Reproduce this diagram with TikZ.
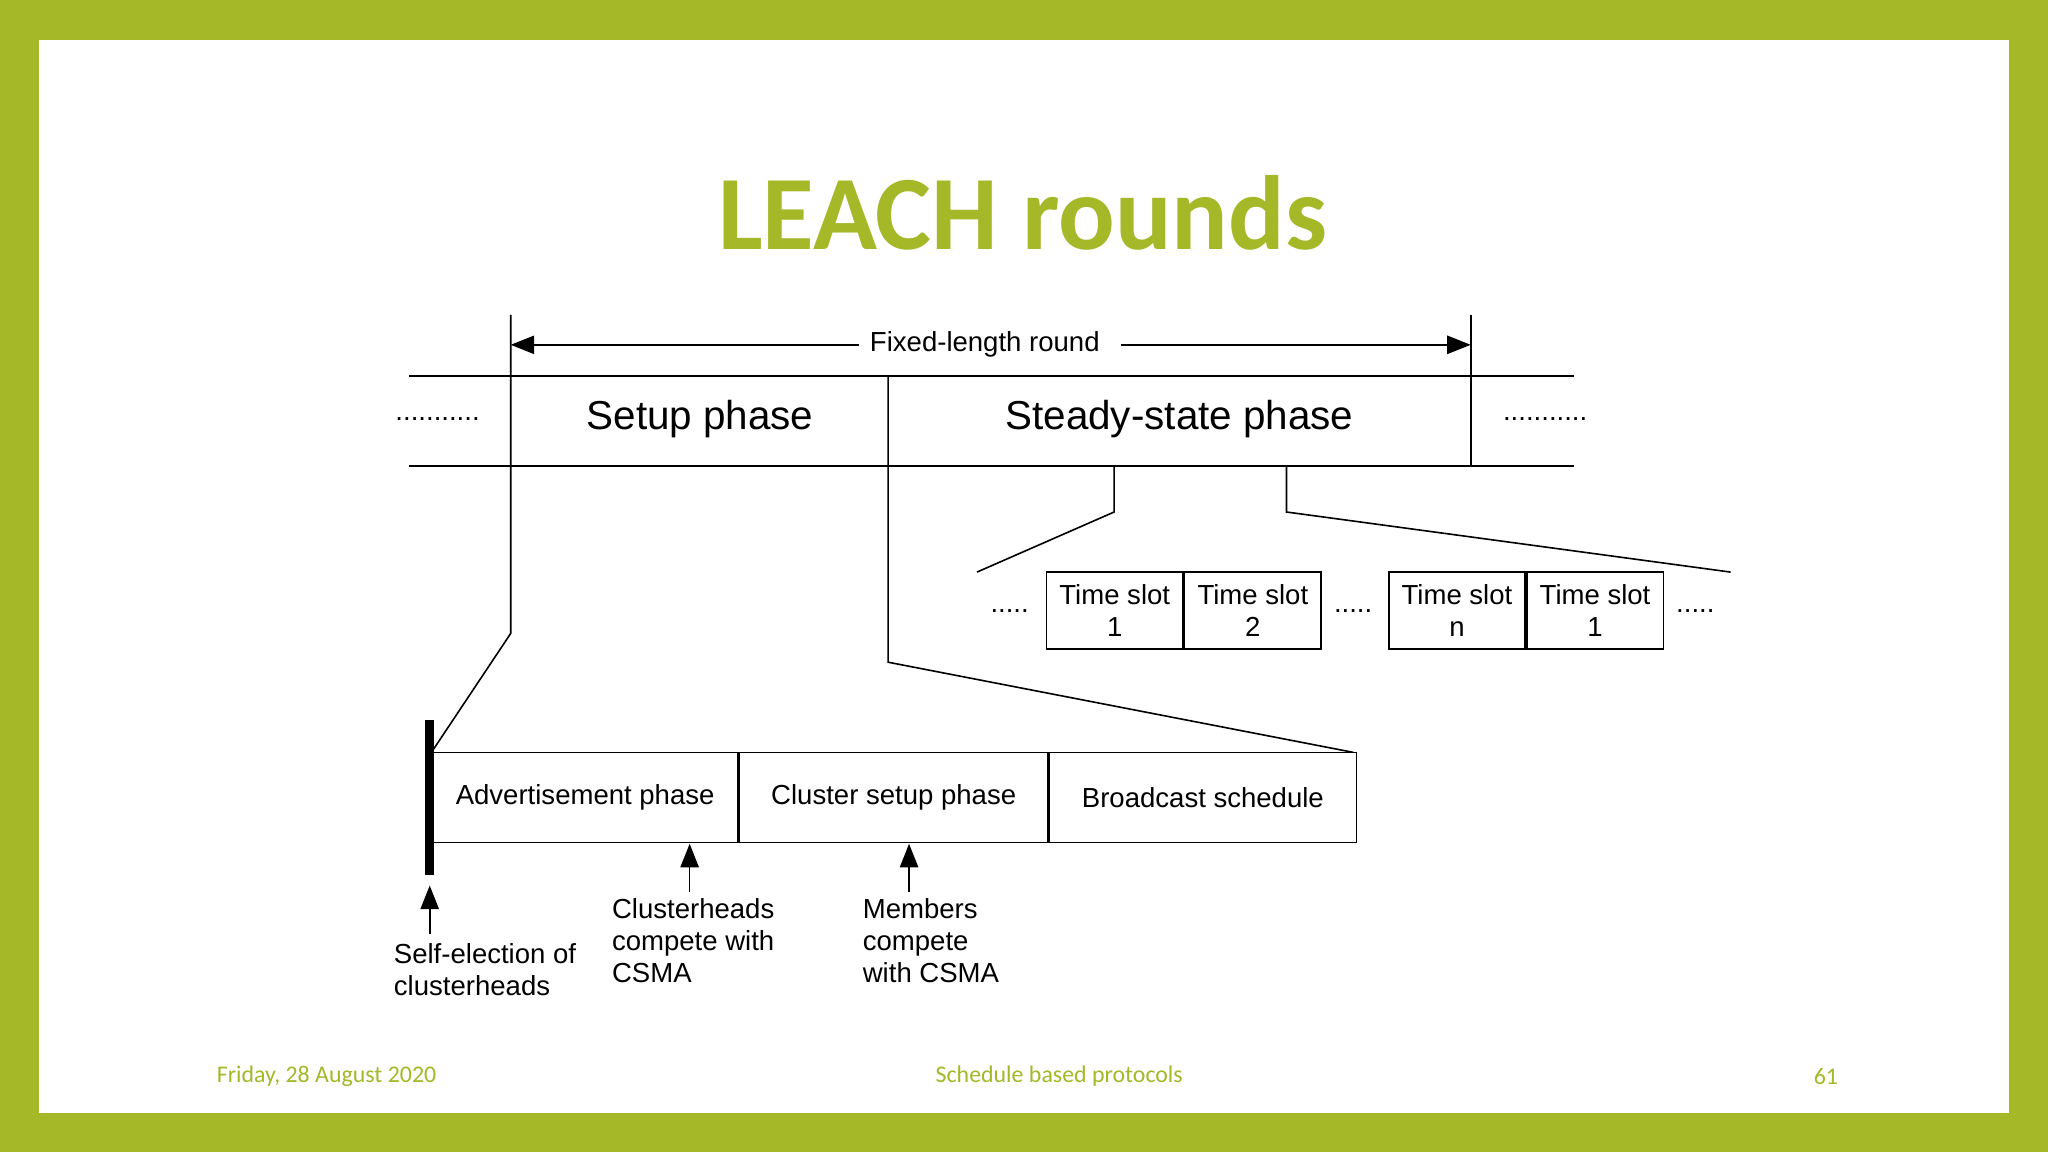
\documentclass[tikz,border=0pt]{standalone}
\usepackage{fontspec}
\setmainfont{Liberation Sans}
\newfontfamily\slidefont{Carlito}
\usetikzlibrary{arrows.meta}
\definecolor{leafgreen}{HTML}{A4B828}
\tikzset{
  lab/.style={font=\fontsize{6}{7}\selectfont,inner sep=0pt},
  big/.style={font=\fontsize{8.8}{10}\selectfont,inner sep=0pt},
  foot/.style={font=\slidefont\fontsize{5.2}{6}\selectfont,text=leafgreen,inner sep=0pt},
  slot/.style={draw,lab,minimum width=10.45mm,minimum height=5.9mm,align=center},
  phase/.style={draw,lab,minimum height=6.9mm},
  up/.style={-{Triangle[length=1.8mm,width=1.4mm]}}
}
\begin{document}
\begin{tikzpicture}[x=0.1mm,y=-0.1mm,line width=0.35pt]
	\useasboundingbox (0,0) rectangle (1568,882);
	\fill[leafgreen] (0,0) rectangle (1568,882);
	\fill[white] (30,31) rectangle (1538,852);
	\node[font=\slidefont\bfseries\fontsize{23}{26}\selectfont,text=leafgreen] (title) at (783,163) {LEACH rounds};
	% round
	\coordinate (rl) at (391,241);
	\coordinate (rr) at (1126,241);
	\draw (rl) -- (391,485) -- (331,575);
	\draw (rr) -- (1126,357);
	\node[lab] (fixed) at (754,264) {Fixed-length round};
	\draw[up] (fixed.west) ++(-8,0) -- (391,264);
	\draw[up] (fixed.east) ++(16,0) -- (1126,264);
	\draw (313,288) -- (1205,288);
	\draw (313,357) -- (1205,357);
	\draw (680,288) -- (680,507) -- (1036,576);
	\node[big] (setup) at (536,321) {Setup phase};
	\node[big] (steady) at (903,321) {Steady-state phase};
	\node[lab] at (335,321) {...........};
	\node[lab] at (1183,321) {...........};
	% time slots
	\draw (853,357) -- (853,392) -- (748,438);
	\draw (985,357) -- (985,392) -- (1325,438);
	\node[slot] (s1) at (853.5,467.5) {Time slot\\1};
	\node[slot,anchor=west] (s2) at (s1.east) {Time slot\\2};
	\node[slot] (s3) at (1115.5,467.5) {Time slot\\n};
	\node[slot,anchor=west] (s4) at (s3.east) {Time slot\\1};
	\node[lab] at (773,468) {.....};
	\node[lab] at (1036,468) {.....};
	\node[lab] at (1298,468) {.....};
	% setup detail
	\node[phase,minimum width=23.4mm] (adv) at (448,610.5) {Advertisement phase};
	\node[phase,minimum width=23.6mm,anchor=west] (clu) at (adv.east) {Cluster setup phase};
	\node[phase,minimum width=23.5mm,anchor=west] (bro) at (clu.east) {Broadcast schedule};
	\draw[line width=2pt] (329,551) -- (329,670);
	\node[lab,align=left,anchor=north west] (self) at (301,722) {Self-election of\\clusterheads};
	\node[lab,align=left,anchor=north west] (chs) at (468,687) {Clusterheads\\compete with\\CSMA};
	\node[lab,align=left,anchor=north west] (mem) at (660,687) {Members\\compete\\with CSMA};
	\draw[up] (329,715) -- (329,678);
	\draw[up] (528,683) -- (528,646);
	\draw[up] (696,683) -- (696,646);
	% footer
	\node[foot] (date) at (250,824) {Friday, 28 August 2020};
	\node[foot] (topic) at (811,824) {Schedule based protocols};
	\node[foot] (page) at (1398,824) {61};
\end{tikzpicture}
\end{document}
